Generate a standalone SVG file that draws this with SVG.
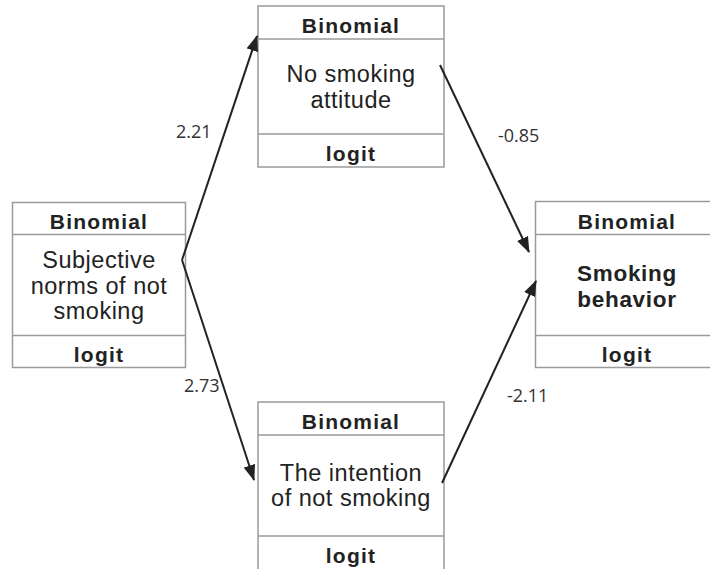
<svg xmlns="http://www.w3.org/2000/svg" width="710" height="569" viewBox="0 0 710 569">
<style>
.box{fill:#fff;stroke:#9a9a9a;stroke-width:1.5}
.div{stroke:#9a9a9a;stroke-width:1.5}
.hd{font-family:"Liberation Sans",Arial,sans-serif;font-weight:bold;font-size:21px;letter-spacing:1.2px;fill:#222;text-anchor:middle}
.tx{font-family:"Liberation Sans",Arial,sans-serif;font-size:23.5px;letter-spacing:0.5px;fill:#222;text-anchor:middle}
.bx{font-family:"Liberation Sans",Arial,sans-serif;font-weight:bold;font-size:22.5px;letter-spacing:0.7px;fill:#222;text-anchor:middle}
.lb{font-family:"Open Sans","Liberation Sans",sans-serif;font-size:18px;fill:#333}
.ar{stroke:#222;stroke-width:2;fill:none;marker-end:url(#ah)}
</style>
<defs>
<marker id="ah" markerUnits="userSpaceOnUse" markerWidth="16" markerHeight="12" refX="15" refY="6" orient="auto">
<path d="M0,0 L16,6 L0,12 z" fill="#222"/>
</marker>
</defs>
<rect width="710" height="569" fill="#fff"/>
<g id="subjective">
<rect class="box" x="12.5" y="202.5" width="173" height="165"/>
<line class="div" x1="12.5" y1="234.5" x2="185.5" y2="234.5"/>
<line class="div" x1="12.5" y1="335.5" x2="185.5" y2="335.5"/>
<text class="hd" x="99" y="229">Binomial</text>
<text class="tx" x="99" y="268">Subjective</text>
<text class="tx" x="99" y="293.5">norms of not</text>
<text class="tx" x="99" y="319">smoking</text>
<text class="hd" x="99" y="362">logit</text>
</g>
<g id="attitude">
<rect class="box" x="258" y="6" width="186" height="161"/>
<line class="div" x1="258" y1="39" x2="444" y2="39"/>
<line class="div" x1="258" y1="134" x2="444" y2="134"/>
<text class="hd" x="351" y="33">Binomial</text>
<text class="tx" x="351" y="82">No smoking</text>
<text class="tx" x="351" y="108">attitude</text>
<text class="hd" x="351" y="161">logit</text>
</g>
<g id="intention">
<rect class="box" x="258" y="402" width="186" height="172"/>
<line class="div" x1="258" y1="435" x2="444" y2="435"/>
<line class="div" x1="258" y1="536" x2="444" y2="536"/>
<text class="hd" x="351" y="429">Binomial</text>
<text class="tx" x="351" y="481">The intention</text>
<text class="tx" x="351" y="506">of not smoking</text>
<text class="hd" x="351" y="563">logit</text>
</g>
<g id="behavior">
<rect class="box" x="535.5" y="201.5" width="184" height="166"/>
<line class="div" x1="535.5" y1="234.5" x2="719.5" y2="234.5"/>
<line class="div" x1="535.5" y1="335.5" x2="719.5" y2="335.5"/>
<text class="hd" x="627" y="229">Binomial</text>
<text class="bx" x="627" y="281">Smoking</text>
<text class="bx" x="627" y="307">behavior</text>
<text class="hd" x="627" y="362">logit</text>
</g>
<g id="connectors">
<line class="ar" x1="182" y1="260" x2="257" y2="36"/>
<line class="ar" x1="182" y1="260" x2="254" y2="480"/>
<line class="ar" x1="440" y1="65" x2="529" y2="252"/>
<line class="ar" x1="442" y1="483" x2="536" y2="281"/>
<text class="lb" x="176" y="138">2.21</text>
<text class="lb" x="498" y="142">-0.85</text>
<text class="lb" x="184" y="392">2.73</text>
<text class="lb" x="507" y="402">-2.11</text>
</g>
</svg>
